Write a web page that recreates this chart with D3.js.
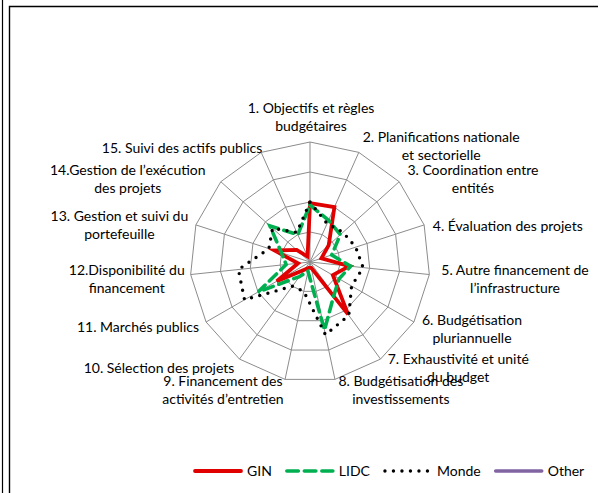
<!DOCTYPE html>
<html>
<head>
<meta charset="utf-8">
<script src="https://cdn.jsdelivr.net/npm/d3@7/dist/d3.min.js"></script>
<style>
  body { margin: 0; background: #fff; }
  svg text { font-family: Lato, "Noto Sans", sans-serif; font-size: 14px; fill: #000; }
</style>
</head>
<body>
<svg id="chart" width="608" height="493"></svg>
<script>
// axis labels (one entry per spoke, lines as Excel wraps them)
var axisLabels = [
  ["1. Objectifs et règles", "budgétaires"],
  ["2. Planifications nationale", "et sectorielle"],
  ["3. Coordination entre", "entités"],
  ["4. Évaluation des projets"],
  ["5. Autre financement de", "l’infrastructure"],
  ["6. Budgétisation", "pluriannuelle"],
  ["7. Exhaustivité et unité", "du budget"],
  ["8. Budgétisation des", "investissements"],
  ["9. Financement des", "activités d’entretien"],
  ["10. Sélection des projets"],
  ["11. Marchés publics"],
  ["12.Disponibilité du", "financement"],
  ["13. Gestion et suivi du", "portefeuille"],
  ["14.Gestion de l’exécution", "des projets"],
  ["15. Suivi des actifs publics"]
];
var seriesNames = ["GIN", "LIDC", "Monde", "Other"];
var gin   = [0.49, 0.50, 0.21, 0.10, 0.33, 0.22, 0.54, 0.05, 0.05, 0.08, 0.32, 0.10, 0.31, 0.15, 0.05];
var lidc  = [0.475, 0.38, 0.34, 0.19, 0.34, 0.28, 0.34, 0.58, 0.08, 0.15, 0.50, 0.20, 0.25, 0.45, 0.25];
var monde = [0.50, 0.35, 0.37, 0.40, 0.445, 0.40, 0.55, 0.62, 0.25, 0.25, 0.63, 0.60, 0.36, 0.42, 0.27];
var other = [];
var gridLevels = [0.25, 0.5, 0.75, 1];

var svg = d3.select("#chart");
var cx = 310, cy = 262, R = 120;
var n = axisLabels.length;
var r = d3.scaleLinear().domain([0, 1]).range([0, R]);
var ang = function(i){ return i * 2 * Math.PI / n; };

// page frame bits (cropped document)
svg.append("line").attr("x1", 2.5).attr("x2", 2.5).attr("y1", 0).attr("y2", 493).attr("stroke", "#000").attr("stroke-width", 1.2);
svg.append("path").attr("d", "M9.5,493V6.5H598").attr("fill", "none").attr("stroke", "#000").attr("stroke-width", 1.4);

var g = svg.append("g").attr("transform", "translate(" + cx + "," + cy + ")");

// grid rings
var ring = d3.lineRadial().angle(function(d, i){ return ang(i); }).radius(function(d){ return r(d); }).curve(d3.curveLinearClosed);
gridLevels.forEach(function(lv){
  g.append("path").attr("d", ring(d3.range(n).map(function(){ return lv; })))
    .attr("fill", "none").attr("stroke", "#8c8c8c").attr("stroke-width", 1);
});
// spokes
g.selectAll(".spoke").data(d3.range(n)).enter().append("line")
  .attr("x1", 0).attr("y1", 0)
  .attr("x2", function(i){ return r(1) * Math.sin(ang(i)); })
  .attr("y2", function(i){ return -r(1) * Math.cos(ang(i)); })
  .attr("stroke", "#8c8c8c").attr("stroke-width", 1);

// series
var styles = [
  {color: "#e00000", width: 3.8, dash: null, cap: "butt"},
  {color: "#00b050", width: 3.6, dash: "10 6", cap: "round"},
  {color: "#000000", width: 3.4, dash: "0 8.5", cap: "round"},
  {color: "#8064a2", width: 3.6, dash: null, cap: "butt"}
];
var allSeries = [gin, lidc, monde, other];
allSeries.forEach(function(vals, k){
  if (!vals.length) return;
  g.append("path").attr("d", ring(vals))
    .attr("fill", "none").attr("stroke", styles[k].color)
    .attr("stroke-width", styles[k].width)
    .attr("stroke-linejoin", "miter")
    .attr("stroke-linecap", styles[k].cap)
    .attr("stroke-dasharray", styles[k].dash);
});

// labels: anchored just outside each spoke end, with Excel-ish nudges
var pad = 7, lineH = 18;
var labelDx = [1, 1, 3, 2, 5, 2, 3, 2, 0, -1, -1, 1, -1, -10, 4];
var labelDy = [0, 17, 14, 6, 2, -5, -11, -14, -14, -4, -3, 2, 8, 14, 10];
axisLabels.forEach(function(lines, i){
  var a = ang(i), s = Math.sin(a), c = Math.cos(a);
  var ax = (R + pad) * s + labelDx[i], ay = -(R + pad) * c;
  var t = g.append("text").attr("text-anchor", "middle");
  var spans = lines.map(function(l){ return t.append("tspan").text(l); });
  var w = d3.max(spans, function(sp){ return sp.node().getComputedTextLength(); });
  var h = lines.length * lineH;
  var mx = Math.abs(s) < 0.1 ? ax : (s > 0 ? ax + w / 2 : ax - w / 2);
  var my = ay - c * h / 2 + labelDy[i];
  spans.forEach(function(sp, j){
    sp.attr("x", mx).attr("y", my - h / 2 + lineH * j + lineH / 2).attr("dy", "0.35em");
  });
});

// legend
var lg = svg.append("g").attr("transform", "translate(193,471)");
var lx = 0;
seriesNames.forEach(function(name, k){
  lg.append("line").attr("x1", lx + 2).attr("x2", lx + 48).attr("y1", 0).attr("y2", 0)
    .attr("stroke", styles[k].color).attr("stroke-width", styles[k].width)
    .attr("stroke-linecap", "round")
    .attr("stroke-dasharray", k == 1 ? "11.5 6" : styles[k].dash);
  var tx = lg.append("text").attr("x", lx + 54).attr("y", 0).attr("dy", "0.35em").text(name);
  lx += 54 + tx.node().getComputedTextLength() + 13;
});
</script>
</body>
</html>
